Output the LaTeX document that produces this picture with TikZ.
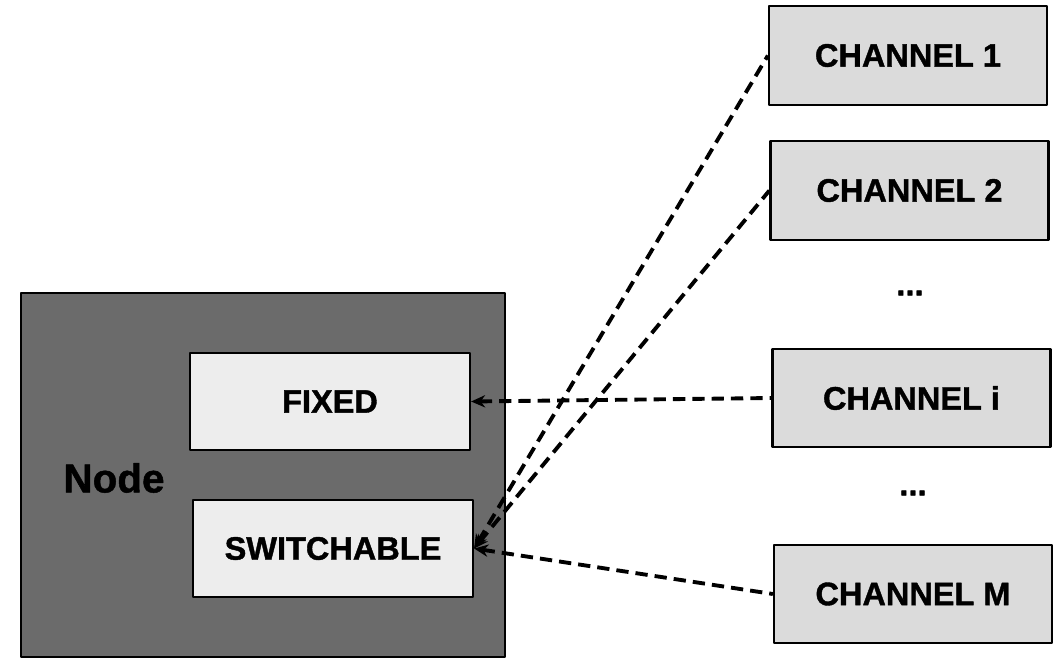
\documentclass[tikz,border=0pt]{standalone}
\usepackage{fontspec}
\setmainfont{Liberation Sans}
\newfontfamily\heavyfont{Liberation Sans Bold}[FakeBold=1.2]
\usetikzlibrary{arrows.meta}

\begin{document}
\begin{tikzpicture}[x=0.02cm, y=-0.02cm, line join=round, >=Stealth,
  nodebox/.style={draw=black, line width=1.3pt, fill=black!58, inner sep=0pt,
    minimum width=9.68cm, minimum height=7.28cm},
  partbox/.style={draw=black, line width=1.3pt, fill=gray!14, inner sep=0pt,
    minimum width=5.6cm, minimum height=1.94cm, font=\fontsize{18.5}{20}\heavyfont},
  chanbox/.style={draw=black, line width=1.3pt, fill=gray!28, inner sep=0pt,
    minimum width=5.56cm, minimum height=1.97cm, font=\fontsize{18.5}{20}\heavyfont},
  link/.style={line width=2.2pt, dash pattern=on 7pt off 4pt,
    {Stealth[length=8pt,width=7pt]}-}]
  % ========================================================
  % 0. BOUNDING BOX
  % ========================================================
  \useasboundingbox (0,0) rectangle (1059,660);

  % ========================================================
  % 1. NODE WITH ITS FIXED AND SWITCHABLE PARTS (Left Side)
  % ========================================================
  \node[nodebox] (node) at (263,475) {};
  \node[font=\fontsize{23}{25}\heavyfont] (nodetxt) at (114,478) {Node};
  \node[partbox] (fixed) at (330,401.5) {FIXED};
  \node[partbox] (switch) at (333,548.5) {SWITCHABLE};

  % ========================================================
  % 2. CHANNELS (Right Side)
  % ========================================================
  \node[chanbox] (ch1) at (908,55.5) {CHANNEL 1};
  \node[chanbox] (ch2) at (909.5,190.5) {CHANNEL 2};
  \node[chanbox] (chi) at (911.5,398) {CHANNEL i};
  \node[chanbox] (chM) at (913,594) {CHANNEL M};

  \node[font=\fontsize{18.5}{20}\heavyfont] (dots1) at (910,293) {...};
  \node[font=\fontsize{18.5}{20}\heavyfont] (dots2) at (913,493) {...};

  % ========================================================
  % 3. DASHED LINKS
  % ========================================================
  \draw[link] (fixed.east) -- (chi.west);
  \draw[link] (switch.east) -- (ch1.west);
  \draw[link] (switch.east) -- (ch2.west);
  \draw[link] (switch.east) -- (chM.west);

\end{tikzpicture}
\end{document}
